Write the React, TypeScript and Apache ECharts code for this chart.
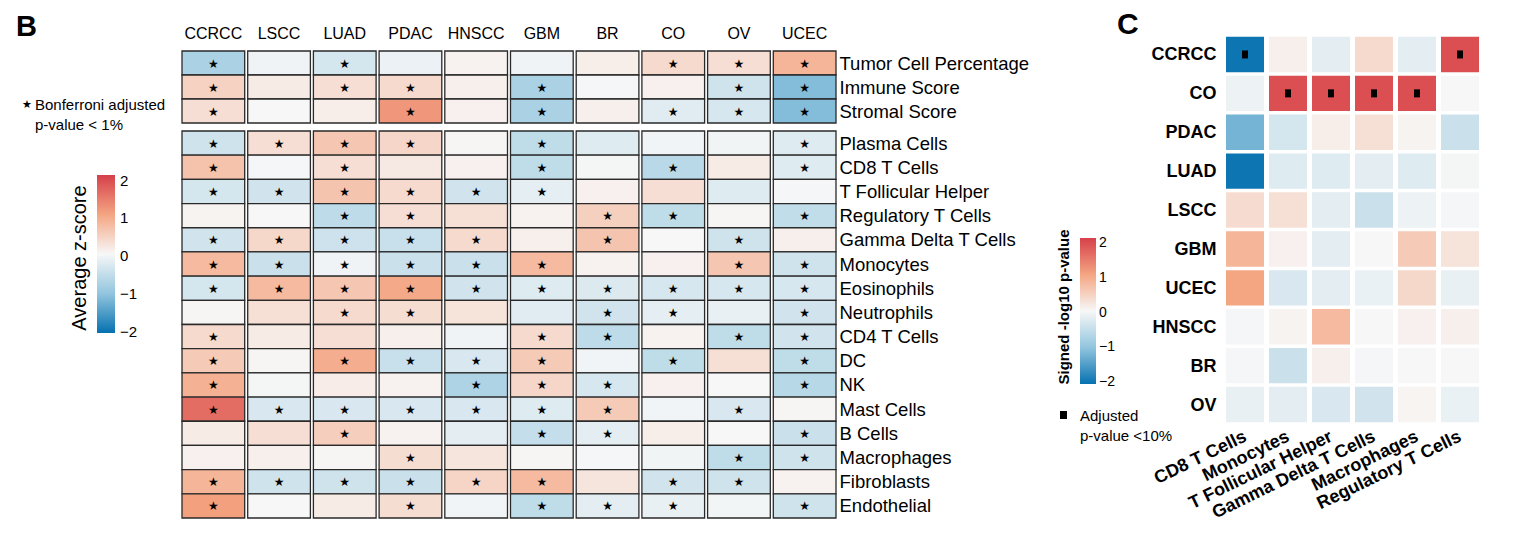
import React, { useEffect, useRef } from 'react';
import * as echarts from 'echarts';

const FONT = '"Liberation Sans", Arial, Helvetica, sans-serif';

// ---------- Panel B data ----------
const cancersB = ['CCRCC', 'LSCC', 'LUAD', 'PDAC', 'HNSCC', 'GBM', 'BR', 'CO', 'OV', 'UCEC'];
const scoreRows = ['Tumor Cell Percentage', 'Immune Score', 'Stromal Score'];
const scoreValues = [
  [-0.75, -0.08, -0.35, -0.12, 0.06, -0.08, 0.12, 0.35, 0.3, 0.8],
  [0.45, 0.15, 0.3, 0.35, 0.1, -0.75, -0.02, 0.08, -0.4, -1.1],
  [0.3, 0.0, 0.12, 1.15, 0.08, -0.75, 0.1, -0.22, -0.32, -1.1],
];
const scoreSig = [
  [1, 0, 1, 0, 0, 0, 0, 1, 1, 1],
  [1, 0, 1, 1, 0, 1, 0, 0, 1, 1],
  [1, 0, 0, 1, 0, 1, 0, 1, 1, 1],
];
const cellRows = [
  'Plasma Cells', 'CD8 T Cells', 'T Follicular Helper', 'Regulatory T Cells', 'Gamma Delta T Cells',
  'Monocytes', 'Eosinophils', 'Neutrophils', 'CD4 T Cells', 'DC', 'NK', 'Mast Cells', 'B Cells',
  'Macrophages', 'Fibroblasts', 'Endothelial',
];
const cellValues = [
  [-0.4, 0.3, 0.6, 0.4, 0.03, -0.55, -0.25, -0.06, -0.07, -0.25],
  [0.65, -0.02, 0.3, 0.18, 0.08, -0.55, -0.03, -0.6, 0.15, -0.25],
  [-0.35, -0.38, 0.62, 0.35, -0.38, -0.18, 0.08, 0.3, -0.25, -0.02],
  [0.05, 0.0, -0.57, 0.3, 0.28, 0.06, 0.48, -0.55, 0.03, -0.53],
  [-0.38, 0.38, -0.42, -0.47, 0.35, 0.1, 0.62, 0.0, -0.4, 0.1],
  [0.75, -0.45, -0.08, -0.45, -0.45, 0.75, 0.07, 0.08, 0.6, -0.4],
  [-0.35, 0.75, 0.6, 0.95, -0.38, -0.25, -0.27, -0.32, -0.32, -0.32],
  [0.03, 0.28, 0.35, 0.32, 0.25, -0.22, -0.38, -0.18, -0.14, -0.38],
  [0.35, 0.15, 0.3, 0.1, -0.08, 0.35, -0.57, 0.06, -0.55, -0.38],
  [0.55, 0.03, 0.9, -0.47, -0.3, 0.55, -0.06, -0.55, 0.28, -0.55],
  [0.85, -0.03, 0.13, 0.07, -0.72, 0.4, -0.33, 0.08, 0.0, -0.63],
  [1.55, -0.3, -0.3, -0.3, -0.3, -0.25, 0.55, -0.06, -0.3, 0.03],
  [0.15, 0.3, 0.5, 0.07, -0.2, -0.5, -0.2, 0.12, 0.0, -0.45],
  [0.08, 0.1, 0.03, 0.32, 0.22, 0.03, -0.02, -0.07, -0.55, -0.4],
  [0.8, -0.4, -0.4, -0.45, 0.42, 0.75, 0.22, -0.38, -0.4, 0.06],
  [1.05, 0.0, 0.15, 0.32, -0.06, -0.55, -0.2, -0.15, -0.05, -0.4],
];
const cellSig = [
  [1, 1, 1, 1, 0, 1, 0, 0, 0, 1],
  [1, 0, 1, 0, 0, 1, 0, 1, 0, 1],
  [1, 1, 1, 1, 1, 1, 0, 0, 0, 0],
  [0, 0, 1, 1, 0, 0, 1, 1, 0, 1],
  [1, 1, 1, 1, 1, 0, 1, 0, 1, 0],
  [1, 1, 1, 1, 1, 1, 0, 0, 1, 1],
  [1, 1, 1, 1, 1, 1, 1, 1, 1, 1],
  [0, 0, 1, 1, 0, 0, 1, 1, 0, 1],
  [1, 0, 0, 0, 0, 1, 1, 0, 1, 1],
  [1, 0, 1, 1, 1, 1, 0, 1, 0, 1],
  [1, 0, 0, 0, 1, 1, 1, 0, 0, 1],
  [1, 1, 1, 1, 1, 1, 1, 0, 1, 0],
  [0, 0, 1, 0, 0, 1, 1, 0, 0, 1],
  [0, 0, 0, 1, 0, 0, 0, 0, 1, 1],
  [1, 1, 1, 1, 1, 1, 0, 1, 1, 0],
  [1, 0, 0, 1, 0, 1, 1, 1, 0, 1],
];

// ---------- Panel C data ----------
const cancersC = ['CCRCC', 'CO', 'PDAC', 'LUAD', 'LSCC', 'GBM', 'UCEC', 'HNSCC', 'BR', 'OV'];
const cellsC = ['CD8 T Cells', 'Monocytes', 'T Follicular Helper', 'Gamma Delta T Cells', 'Macrophages', 'Regulatory T Cells'];
const valuesC = [
  [-1.95, 0.1, -0.2, 0.35, -0.2, 1.85],
  [-0.1, 1.85, 1.85, 1.85, 1.85, 0.0],
  [-1.2, -0.35, 0.12, 0.28, 0.05, -0.45],
  [-1.95, -0.25, -0.25, -0.2, -0.25, -0.03],
  [0.33, 0.28, -0.2, -0.45, -0.1, -0.02],
  [0.8, 0.08, -0.2, 0.0, 0.55, 0.25],
  [1.0, -0.3, -0.2, -0.13, 0.38, -0.15],
  [-0.02, 0.05, 0.75, 0.0, 0.08, 0.1],
  [-0.02, -0.45, 0.1, -0.02, 0.0, 0.0],
  [-0.15, -0.2, -0.3, -0.38, 0.04, -0.13],
];
const sigC = [
  [1, 0, 0, 0, 0, 1],
  [0, 1, 1, 1, 1, 0],
  [0, 0, 0, 0, 0, 0],
  [0, 0, 0, 0, 0, 0],
  [0, 0, 0, 0, 0, 0],
  [0, 0, 0, 0, 0, 0],
  [0, 0, 0, 0, 0, 0],
  [0, 0, 0, 0, 0, 0],
  [0, 0, 0, 0, 0, 0],
  [0, 0, 0, 0, 0, 0],
];

const colorbarTicks = [-2, -1, 0, 1, 2];
const palette = ['#0571b0', '#92c5de', '#f7f7f7', '#f4a582', '#d6404a'];

function toTriples(values: number[][], sig: number[][]) {
  const out: number[][] = [];
  values.forEach((row, r) => row.forEach((v, c) => out.push([c, r, v, sig[r][c]])));
  return out;
}

const renderB = (params: any, api: any) => {
  const c = api.coord([api.value(0), api.value(1)]);
  const s = api.size([1, 1]);
  const w = s[0] - 3;
  const h = s[1];
  const children: any[] = [
    {
      type: 'rect',
      shape: { x: c[0] - w / 2, y: c[1] - h / 2, width: w, height: h },
      style: { fill: api.visual('color'), stroke: '#2a2a2a', lineWidth: 1.3 },
    },
  ];
  if (api.value(3) === 1) {
    children.push({
      type: 'text',
      style: {
        text: '★', x: c[0], y: c[1] + 0.5, fill: '#000', fontSize: 12, fontFamily: 'DejaVu Sans',
        align: 'center', verticalAlign: 'middle',
      },
    });
  }
  return { type: 'group', children };
};

const renderC = (params: any, api: any) => {
  const c = api.coord([api.value(0), api.value(1)]);
  const s = api.size([1, 1]);
  const w = s[0] - 5;
  const h = s[1] - 3.5;
  const children: any[] = [
    {
      type: 'rect',
      shape: { x: c[0] - w / 2, y: c[1] - h / 2, width: w, height: h },
      style: { fill: api.visual('color') },
    },
  ];
  if (api.value(3) === 1) {
    children.push({
      type: 'rect',
      shape: { x: c[0] - 3, y: c[1] - 4, width: 6, height: 8 },
      style: { fill: '#000' },
    });
  }
  return { type: 'group', children };
};

function gradient() {
  const stops = palette
    .slice()
    .reverse()
    .map((color, i) => ({ offset: i / (palette.length - 1), color }));
  return new echarts.graphic.LinearGradient(0, 0, 0, 1, stops);
}

const minusFmt = (v: number) => String(v).replace('-', '\u2212');

const txt = (x: number, y: number, text: string, extra: any = {}) => ({
  type: 'text', x, y,
  style: {
    text, fontSize: 15, fill: '#000', fontFamily: FONT,
    align: 'left', verticalAlign: 'middle', textAlign: 'left', textVerticalAlign: 'middle', ...extra,
  },
});

export default function App() {
  const ref = useRef<HTMLDivElement>(null);
  useEffect(() => {
    const chart = echarts.init(ref.current!, null, { renderer: 'svg' });
    const option: any = {
      animation: false,
      backgroundColor: '#ffffff',
      textStyle: { fontFamily: FONT },
      grid: [
        { left: 180.5, top: 51, width: 657, height: 72 },
        { left: 180.5, top: 131, width: 657, height: 387 },
        { left: 1223.5, top: 35, width: 258, height: 389 },
        { left: 97, top: 180, width: 18, height: 151 },
        { left: 1080, top: 242, width: 16, height: 139 },
      ],
      xAxis: [
        {
          type: 'category', gridIndex: 0, data: cancersB, position: 'top',
          axisLine: { show: false }, axisTick: { show: false },
          axisLabel: { fontSize: 16, color: '#000', margin: 10, interval: 0, fontFamily: FONT },
        },
        { type: 'category', gridIndex: 1, data: cancersB, show: false },
        {
          type: 'category', gridIndex: 2, data: cellsC, position: 'bottom',
          axisLine: { show: false }, axisTick: { show: false },
          axisLabel: { fontSize: 18, fontWeight: 'bold', color: '#000', rotate: 26, margin: 11, interval: 0, fontFamily: FONT },
        },
        { type: 'value', gridIndex: 3, show: false, min: 0, max: 1 },
        { type: 'value', gridIndex: 4, show: false, min: 0, max: 1 },
      ],
      yAxis: [
        {
          type: 'category', gridIndex: 0, data: scoreRows, inverse: true, position: 'right',
          axisLine: { show: false }, axisTick: { show: false },
          axisLabel: { fontSize: 18.5, color: '#000', margin: 2, interval: 0, fontFamily: FONT },
        },
        {
          type: 'category', gridIndex: 1, data: cellRows, inverse: true, position: 'right',
          axisLine: { show: false }, axisTick: { show: false },
          axisLabel: { fontSize: 18.5, color: '#000', margin: 2, interval: 0, fontFamily: FONT },
        },
        {
          type: 'category', gridIndex: 2, data: cancersC, inverse: true, position: 'left',
          axisLine: { show: false }, axisTick: { show: false },
          axisLabel: { fontSize: 18, fontWeight: 'bold', color: '#000', margin: 7, interval: 0, fontFamily: FONT },
        },
        {
          type: 'value', gridIndex: 3, min: colorbarTicks[0], max: colorbarTicks[colorbarTicks.length - 1], interval: 1,
          position: 'right', z: 10,
          axisLine: { show: false }, splitLine: { show: false },
          axisTick: { show: true, inside: true, length: 4, lineStyle: { color: '#ffffff', width: 1 } },
          axisLabel: { fontSize: 15, color: '#000', margin: 5, formatter: minusFmt, fontFamily: FONT },
        },
        {
          type: 'value', gridIndex: 4, min: colorbarTicks[0], max: colorbarTicks[colorbarTicks.length - 1], interval: 1,
          position: 'right', z: 10,
          axisLine: { show: false }, splitLine: { show: false },
          axisTick: { show: true, inside: true, length: 4, lineStyle: { color: '#ffffff', width: 1 } },
          axisLabel: { fontSize: 14, color: '#000', margin: 3, formatter: minusFmt, fontFamily: FONT },
        },
      ],
      visualMap: [
        { type: 'continuous', show: false, min: -2, max: 2, dimension: 2, seriesIndex: [0, 1], inRange: { color: palette } },
        { type: 'continuous', show: false, min: -2, max: 2, dimension: 2, seriesIndex: [2], inRange: { color: palette } },
      ],
      series: [
        {
          type: 'custom', xAxisIndex: 0, yAxisIndex: 0, renderItem: renderB,
          encode: { x: 0, y: 1 }, data: toTriples(scoreValues, scoreSig),
        },
        {
          type: 'custom', xAxisIndex: 1, yAxisIndex: 1, renderItem: renderB,
          encode: { x: 0, y: 1 }, data: toTriples(cellValues, cellSig),
        },
        {
          type: 'custom', xAxisIndex: 2, yAxisIndex: 2, renderItem: renderC,
          encode: { x: 0, y: 1 }, data: toTriples(valuesC, sigC),
        },
      ],
      graphic: [
        txt(16, 26, 'B', { fontSize: 29, fontWeight: 'bold' }),
        txt(1117, 23, 'C', { fontSize: 30, fontWeight: 'bold' }),
        txt(27, 104, '★', { fontSize: 11, fontFamily: 'DejaVu Sans', align: 'center', textAlign: 'center' }),
        txt(35, 104, 'Bonferroni adjusted'),
        txt(35, 124, 'p-value < 1%'),
        { type: 'rect', z: 0, shape: { x: 97, y: 175, width: 18, height: 158 }, style: { fill: gradient() } },
        { ...txt(79, 258, 'Average z-score', { fontSize: 20, align: 'center', textAlign: 'center' }), rotation: Math.PI / 2 },
        { type: 'rect', z: 0, shape: { x: 1080, y: 238, width: 16, height: 146 }, style: { fill: gradient() } },
        { ...txt(1063, 307, 'Signed -log10 p-value', { fontWeight: 'bold', align: 'center', textAlign: 'center' }), rotation: Math.PI / 2 },
        { type: 'rect', shape: { x: 1060, y: 411, width: 7, height: 8 }, style: { fill: '#000' } },
        txt(1080, 415, 'Adjusted'),
        txt(1080, 435, 'p-value <10%'),
      ],
    };
    chart.setOption(option);
    return () => chart.dispose();
  }, []);
  return (
    <div
      ref={ref}
      style={{ position: 'fixed', left: 0, top: 0, width: 1514, height: 546, background: '#fff' }}
    />
  );
}
